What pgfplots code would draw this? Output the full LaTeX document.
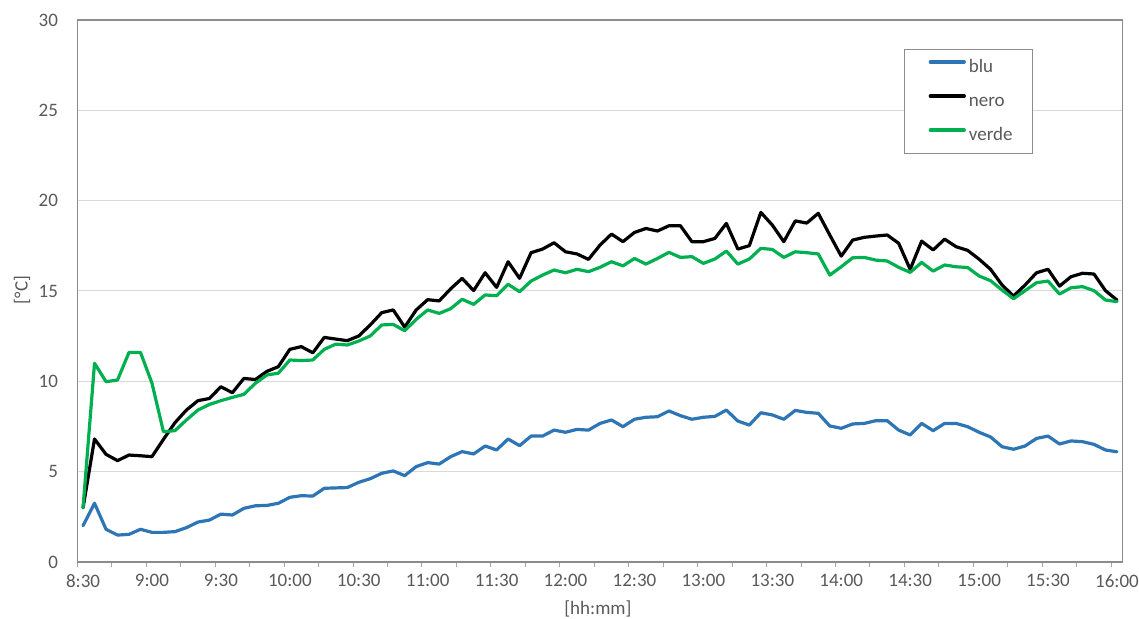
\documentclass[border=0pt]{standalone}
\usepackage{pgfplots}
\usepackage{pgfplotstable}
\pgfplotsset{compat=1.18}
\usepackage{fontspec}
\setmainfont{Carlito}

\definecolor{txtgrey}{HTML}{595959}
\definecolor{axgrey}{HTML}{8C8C8C}
\definecolor{gridgrey}{HTML}{D9D9D9}
\definecolor{tickgrey}{HTML}{A6A6A6}
\definecolor{blu}{HTML}{2E75B6}
\definecolor{verde}{HTML}{00B050}

% one row every 5 minutes, 8:30 (i=0) to 16:00 (i=90)
\pgfplotstableread{
i blu nero verde
0 2.01 3.00 3.00
1 3.25 6.81 11.00
2 1.81 5.96 9.98
3 1.49 5.61 10.07
4 1.53 5.92 11.60
5 1.81 5.88 11.60
6 1.64 5.83 9.90
7 1.64 6.79 7.21
8 1.68 7.71 7.27
9 1.90 8.41 7.86
10 2.21 8.93 8.41
11 2.32 9.05 8.72
12 2.65 9.70 8.93
13 2.60 9.37 9.11
14 2.97 10.16 9.28
15 3.11 10.10 9.89
16 3.13 10.55 10.35
17 3.25 10.81 10.45
18 3.58 11.77 11.18
19 3.67 11.92 11.15
20 3.65 11.58 11.18
21 4.08 12.43 11.77
22 4.10 12.34 12.06
23 4.12 12.25 12.01
24 4.41 12.51 12.23
25 4.61 13.12 12.51
26 4.91 13.80 13.12
27 5.04 13.95 13.15
28 4.78 13.00 12.80
29 5.28 13.95 13.43
30 5.50 14.52 13.95
31 5.42 14.45 13.76
32 5.83 15.12 14.02
33 6.11 15.70 14.54
34 5.98 15.02 14.26
35 6.42 16.01 14.78
36 6.20 15.20 14.74
37 6.81 16.62 15.37
38 6.44 15.70 14.96
39 6.97 17.12 15.55
40 6.97 17.32 15.88
41 7.30 17.67 16.16
42 7.18 17.17 16.01
43 7.34 17.05 16.20
44 7.30 16.75 16.07
45 7.67 17.54 16.31
46 7.86 18.15 16.62
47 7.49 17.73 16.39
48 7.90 18.24 16.80
49 8.01 18.46 16.49
50 8.04 18.32 16.80
51 8.36 18.61 17.14
52 8.10 18.61 16.86
53 7.90 17.73 16.90
54 8.01 17.73 16.53
55 8.06 17.91 16.77
56 8.41 18.74 17.21
57 7.80 17.32 16.49
58 7.58 17.51 16.77
59 8.26 19.35 17.36
60 8.14 18.65 17.30
61 7.90 17.73 16.86
62 8.39 18.88 17.17
63 8.28 18.76 17.12
64 8.23 19.30 17.05
65 7.53 18.10 15.88
66 7.40 16.93 16.34
67 7.64 17.82 16.84
68 7.67 17.97 16.86
69 7.82 18.04 16.71
70 7.82 18.10 16.66
71 7.30 17.64 16.31
72 7.03 16.20 16.03
73 7.67 17.76 16.58
74 7.27 17.27 16.10
75 7.67 17.87 16.44
76 7.67 17.45 16.34
77 7.49 17.25 16.30
78 7.18 16.76 15.83
79 6.92 16.20 15.57
80 6.38 15.33 15.05
81 6.24 14.72 14.57
82 6.42 15.33 15.02
83 6.84 16.01 15.46
84 6.97 16.20 15.55
85 6.53 15.27 14.83
86 6.70 15.79 15.18
87 6.66 15.98 15.24
88 6.51 15.94 15.02
89 6.20 15.02 14.50
90 6.10 14.50 14.41
}\temps

\begin{document}
\begin{tikzpicture}
  \fontsize{9.5}{11}\selectfont
  \path[use as bounding box] (-38.65pt,-28.5pt) rectangle (530.85pt,281pt);
  \begin{axis}[
    scale only axis,
    width=522.7pt, height=271pt,
    xmin=-0.5, xmax=90.5,
    ymin=0, ymax=30,
    xtick={0,6,...,90},
    xticklabels={8:30,9:00,9:30,10:00,10:30,11:00,11:30,12:00,12:30,13:00,13:30,14:00,14:30,15:00,15:30,16:00},
    minor xtick={-0.5,2.5,...,90.5},
    ytick={0,5,...,30},
    major tick length=0pt,
    minor tick length=2.6pt,
    tick align=outside,
    tick pos=left,
    minor tick style={tickgrey, line width=0.5pt},
    ymajorgrids,
    major grid style={gridgrey, line width=0.5pt},
    axis line style={axgrey, line width=0.6pt},
    /pgf/number format/assume math mode=true,
    ticklabel style={font=\fontsize{9.5}{11}\selectfont, text=txtgrey},
    xticklabel style={anchor=north, inner sep=0pt, yshift=-6pt},
    yticklabel style={anchor=east, inner sep=0pt, xshift=-9.5pt},
    xlabel={[hh:mm]},
    ylabel={[°C]},
    label style={font=\fontsize{9.5}{11}\selectfont, text=txtgrey},
    xlabel style={at={(axis description cs:0.498,-0.0870)}, anchor=center},
    ylabel style={at={(axis description cs:-0.0529,0.502)}, anchor=center},
    legend style={
      at={(0.791,0.9465)}, anchor=north west,
      draw=axgrey, line width=0.5pt,
      inner xsep=12pt, inner ysep=4.6pt,
      row sep=8pt, column sep=1.5pt,
      font=\fontsize{9.5}{11}\selectfont, text=txtgrey,
      nodes={inner sep=0pt, text height=7pt, text depth=2pt},
    },
    legend cell align=left,
    legend image code/.code={\draw[#1] (0pt,2.8pt) -- (17pt,2.8pt);},
    every axis plot/.append style={line width=1.6pt, line join=round, line cap=round, mark=none},
  ]
    \addplot[blu] table[x=i, y=blu] {\temps};
    \addlegendentry{\makebox[20pt][l]{blu}}
    \addplot[black] table[x=i, y=nero] {\temps};
    \addlegendentry{\makebox[20pt][l]{nero}}
    \addplot[verde] table[x=i, y=verde] {\temps};
    \addlegendentry{\makebox[20pt][l]{verde}}
  \end{axis}
\end{tikzpicture}
\end{document}
